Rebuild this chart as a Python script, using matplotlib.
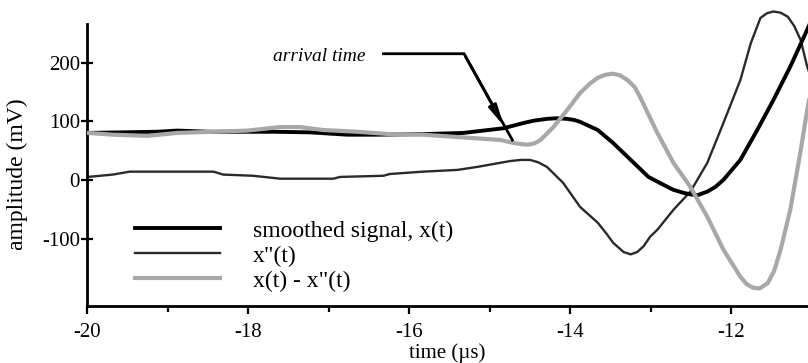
import matplotlib
matplotlib.use('Agg')
import matplotlib.pyplot as plt

plt.rcParams['font.family'] = ['Liberation Serif', 'DejaVu Serif']
plt.rcParams['axes.unicode_minus'] = False

# smoothed signal x(t)
t_x = [-19.99, -19.13, -18.88, -18.47, -17.69, -17.23, -16.77, -16.40, -15.83, -15.33,
       -14.83, -14.58, -14.45, -14.29, -14.17, -14.04, -13.95, -13.88, -13.66, -13.47,
       -13.25, -13.03, -12.85, -12.72, -12.60, -12.50, -12.42, -12.30, -12.20, -12.10,
       -11.89, -11.68, -11.48, -11.27, -11.06, -10.95]
x_t = [80, 82, 84, 82, 82, 81, 77, 77, 78, 80,
       88, 97, 101, 104, 105, 104, 102, 99, 85, 63,
       34, 5, -8, -17, -22, -25, -26, -20, -12, 0,
       34, 85, 136, 193, 256, 290]

# segunda derivada x''(t)
t_d2 = [-19.99, -19.68, -19.47, -18.84, -18.43, -18.31, -17.94, -17.60, -16.94, -16.86,
        -16.32, -16.24, -15.83, -15.40, -15.16, -14.75, -14.62, -14.50, -14.40, -14.29,
        -14.09, -13.88, -13.66, -13.55, -13.47, -13.34, -13.25, -13.17, -13.09, -13.01,
        -12.92, -12.72, -12.51, -12.30, -12.10, -11.89, -11.76, -11.64, -11.56, -11.48,
        -11.39, -11.30, -11.22, -11.14, -11.06, -10.95]
d2_t = [5, 9, 14, 14, 14, 9, 7, 2, 2, 5,
        7, 10, 14, 17, 22, 32, 34, 34, 30, 22,
        -5, -46, -73, -92, -107, -123, -127, -123, -113, -97,
        -85, -51, -20, 29, 97, 170, 233, 276, 284, 287,
        285, 278, 262, 238, 193, 150]

# diferenca x(t) - x''(t)
t_dif = [-19.99, -19.68, -19.25, -18.88, -18.43, -18.01, -17.60, -17.35, -17.07, -16.65,
         -16.24, -15.83, -15.40, -15.08, -14.87, -14.71, -14.62, -14.53, -14.45, -14.37,
         -14.21, -14.04, -13.88, -13.75, -13.66, -13.57, -13.47, -13.38, -13.29, -13.20,
         -13.13, -12.92, -12.72, -12.51, -12.30, -12.10, -11.89, -11.81, -11.73, -11.65,
         -11.55, -11.47, -11.39, -11.27, -11.14, -11.06, -10.95]
dif_t = [80, 77, 75, 80, 82, 84, 90, 90, 85, 82,
         78, 77, 73, 70, 68, 63, 61, 60, 62, 68,
         90, 119, 148, 165, 174, 179, 181, 178, 170, 158,
         140, 80, 29, -12, -63, -119, -165, -178, -184, -185,
         -176, -155, -119, -51, 51, 119, 200]

fig = plt.figure(figsize=(8.08, 3.63), dpi=100)
ax = fig.add_axes([87 / 808, 1 - 306 / 363, 1 - 87 / 808, (306 - 6.8) / 363])

ax.plot(t_x, x_t, color='black', lw=2.8, label='smoothed signal, x(t)', zorder=3,
        solid_joinstyle='round')
ax.plot(t_d2, d2_t, color='#2a2a2a', lw=1.7, label='x"(t)', zorder=2,
        solid_joinstyle='round')
ax.plot(t_dif, dif_t, color='#a8a8a8', lw=3, label='x(t) - x"(t)', zorder=4,
        solid_joinstyle='round')

ax.set_xlim(-20, -11.05)
ax.set_ylim(-215, 295)

for s in ['top', 'right']:
    ax.spines[s].set_visible(False)
ax.spines['left'].set_linewidth(2)
ax.spines['bottom'].set_linewidth(2)
ax.spines['left'].set_bounds(-215, 266)

ax.set_xticks([-20, -18, -16, -14, -12])
ax.set_xticks([-19, -17, -15, -13], minor=True)
ax.set_yticks([-100, 0, 100, 200])
ax.tick_params(axis='x', which='major', direction='out', length=6, width=1.6, labelsize=15, pad=6)
ax.tick_params(axis='x', which='minor', direction='out', length=4, width=1.6)
ax.tick_params(axis='y', direction='inout', length=8, width=1.6, labelsize=15, pad=1)

ax.set_xlabel('time (µs)', fontsize=15, labelpad=1)
ax.set_ylabel('amplitude (mV)', fontsize=17)
ax.yaxis.set_label_coords(-0.082, 0.44)

# seta "arrival time"
ax.text(-17.69, 210, 'arrival time', fontsize=14, style='italic', ha='left', va='center')
ax.plot([-16.32, -15.32, -14.72], [215, 215, 68], color='black', lw=2, zorder=5,
        solid_joinstyle='miter')
ax.annotate('', xy=(-14.81, 88), xytext=(-15.32, 215),
            arrowprops=dict(arrowstyle='-|>,head_length=1.2,head_width=0.25',
                            color='black', lw=2), zorder=5)

ax.legend(loc='upper left', bbox_to_anchor=(135 / 808, 1 - 220 / 363),
          bbox_transform=fig.transFigure, frameon=False, fontsize=17,
          handlelength=3.6, handletextpad=1.4, labelspacing=0.15,
          borderpad=0, borderaxespad=0)

fig.savefig('out.png', dpi=100)
